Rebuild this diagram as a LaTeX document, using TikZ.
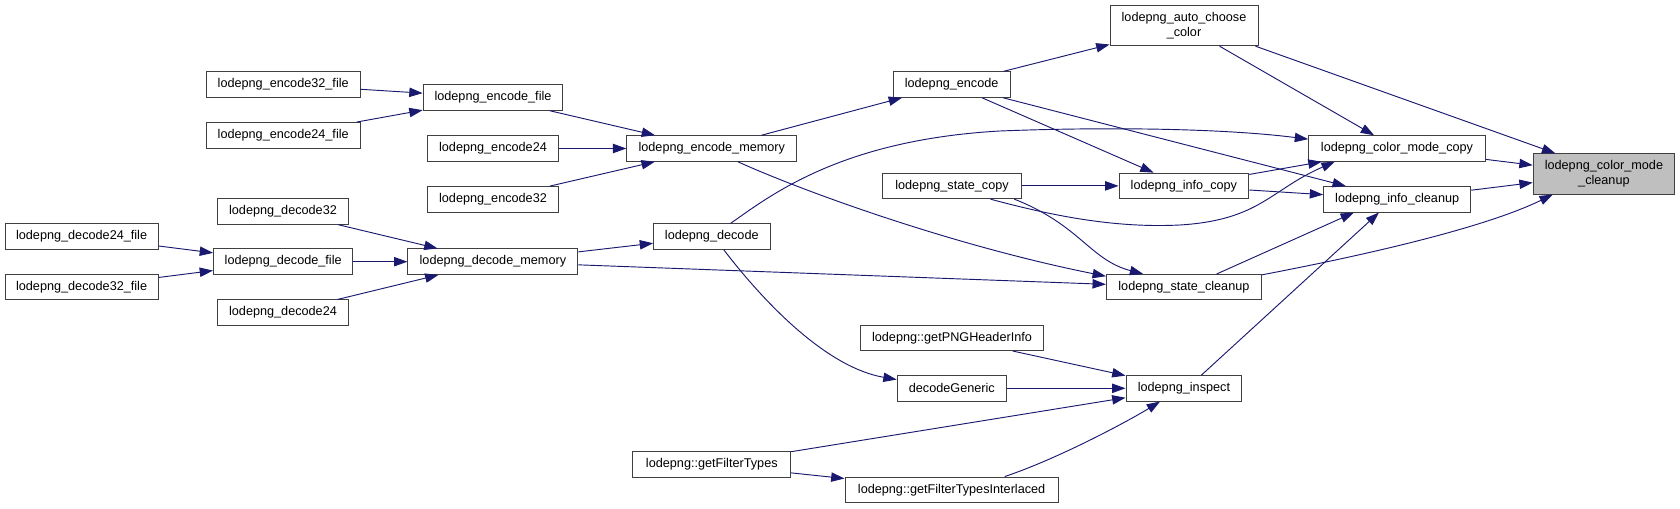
\documentclass[tikz,border=0pt]{standalone}
\usepackage{fontspec}
\setmainfont{Liberation Sans}
\usetikzlibrary{arrows.meta}
\definecolor{midnight}{HTML}{191970}
\definecolor{boxline}{HTML}{404040}
\definecolor{calleegray}{HTML}{BFBFBF}
\tikzset{
  fnbox/.style={draw=boxline, fill=white, line width=0.75pt, minimum width=#1*0.75pt,
    minimum height=19.1pt, inner sep=0pt, align=center, font=\fontsize{9.5}{11.3}\selectfont},
  calls/.style={draw=midnight, line width=0.7pt, -{Triangle[length=10pt,width=7pt]}},
}
\begin{document}
\begin{tikzpicture}[x=0.75pt,y=-0.75pt]
\path[use as bounding box, fill=white] (0,0) rectangle (1680,509);
\node[fnbox=153.6] (enc32file) at (283.2,84.5) {lodepng\_encode32\_file};
\node[fnbox=153.6] (enc24file) at (283.2,135.3) {lodepng\_encode24\_file};
\node[fnbox=139.7] (encfile) at (493,97.5) {lodepng\_encode\_file};
\node[fnbox=130.3] (enc24) at (493,148.5) {lodepng\_encode24};
\node[fnbox=130.3] (enc32) at (493,199.3) {lodepng\_encode32};
\node[fnbox=130.3] (dec32) at (283,211.5) {lodepng\_decode32};
\node[fnbox=153.2] (dec24file) at (81.6,236.3) {lodepng\_decode24\_file};
\node[fnbox=139.3] (decfile) at (283.2,261.7) {lodepng\_decode\_file};
\node[fnbox=170] (decmem) at (492.9,261.7) {lodepng\_decode\_memory};
\node[fnbox=153.2] (dec32file) at (81.6,287.2) {lodepng\_decode32\_file};
\node[fnbox=130.3] (dec24) at (283,312.7) {lodepng\_decode24};
\node[fnbox=170] (encmem) at (711.8,148.5) {lodepng\_encode\_memory};
\node[fnbox=116.4] (dec) at (711.8,236.5) {lodepng\_decode};
\node[fnbox=116.8] (enc) at (951.6,84.5) {lodepng\_encode};
\node[fnbox=138.9] (statecopy) at (952,185.9) {lodepng\_state\_copy};
\node[fnbox=182.5] (pngheader) at (952,337.8) {lodepng::getPNGHeaderInfo};
\node[fnbox=109.3] (decgeneric) at (951.8,388.3) {decodeGeneric};
\node[fnbox=157.8] (filtertypes) at (711.8,464.5) {lodepng::getFilterTypes};
\node[fnbox=213.2] (filterlaced) at (951.6,489.8) {lodepng::getFilterTypesInterlaced};
\node[fnbox=148, minimum height=30pt] (autocolor) at (1184,25.7) {lodepng\_auto\_choose\\\_color};
\node[fnbox=129.7] (infocopy) at (1183.9,185.9) {lodepng\_info\_copy};
\node[fnbox=155] (stateclean) at (1183.9,287.2) {lodepng\_state\_cleanup};
\node[fnbox=115.8] (inspect) at (1183.9,388.3) {lodepng\_inspect};
\node[fnbox=176.8] (colorcopy) at (1397,148.5) {lodepng\_color\_mode\_copy};
\node[fnbox=147.1] (infoclean) at (1397.2,199.3) {lodepng\_info\_cleanup};
\node[fnbox=141.4, minimum height=30.2pt, fill=calleegray] (colorclean) at (1603.9,173.9) {lodepng\_color\_mode\\\_cleanup};

\draw[calls] (enc32file) -- (encfile);
\draw[calls] (enc24file) -- (encfile);
\draw[calls] (encfile) -- (encmem);
\draw[calls] (enc24) -- (encmem);
\draw[calls] (enc32) -- (encmem);
\draw[calls] (encmem) -- (enc);
\draw[calls] (encmem.-27) .. controls (800,190) and (950,245) .. (stateclean.172);
\draw[calls] (enc) -- (autocolor);
\draw[calls] (enc) -- (infocopy);
\draw[calls] (enc) -- (infoclean);
\draw[calls] (autocolor) -- (colorcopy);
\draw[calls] (autocolor.-16) -- (colorclean.157);
\draw[calls] (dec24file) -- (decfile);
\draw[calls] (dec32file) -- (decfile);
\draw[calls] (decfile) -- (decmem);
\draw[calls] (dec32) -- (decmem);
\draw[calls] (dec24) -- (decmem);
\draw[calls] (decmem) -- (dec);
\draw[calls] (decmem) -- (stateclean);
\draw[calls] (dec.35) .. controls (770,196) and (840,140) .. (1000,131) .. controls (1100,127) and (1220,128) .. (colorcopy.174);
\draw[calls] (dec.-48) .. controls (770,310) and (830,368) .. (decgeneric.171);
\draw[calls] (statecopy) -- (infocopy);
\draw[calls] (statecopy.-19) .. controls (1060,218) and (1120,228) .. (1180,225) .. controls (1260,220) and (1270,190) .. (colorcopy.-168);
\draw[calls] (statecopy.-12) .. controls (1080,225) and (1090,260) .. (stateclean.162);
\draw[calls] (infocopy) -- (colorcopy);
\draw[calls] (infocopy) -- (infoclean);
\draw[calls] (stateclean.22) -- (infoclean.-163);
\draw[calls] (stateclean.9) .. controls (1350,258) and (1480,230) .. (colorclean.-158);
\draw[calls] (pngheader) -- (inspect);
\draw[calls] (decgeneric) -- (inspect);
\draw[calls] (filtertypes) -- (inspect);
\draw[calls] (filtertypes) -- (filterlaced);
\draw[calls] (filterlaced.14) .. controls (1060,458) and (1130,420) .. (inspect.-151);
\draw[calls] (inspect.37) -- (infoclean.-144);
\draw[calls] (colorcopy) -- (colorclean);
\draw[calls] (infoclean) -- (colorclean);
\end{tikzpicture}
\end{document}
